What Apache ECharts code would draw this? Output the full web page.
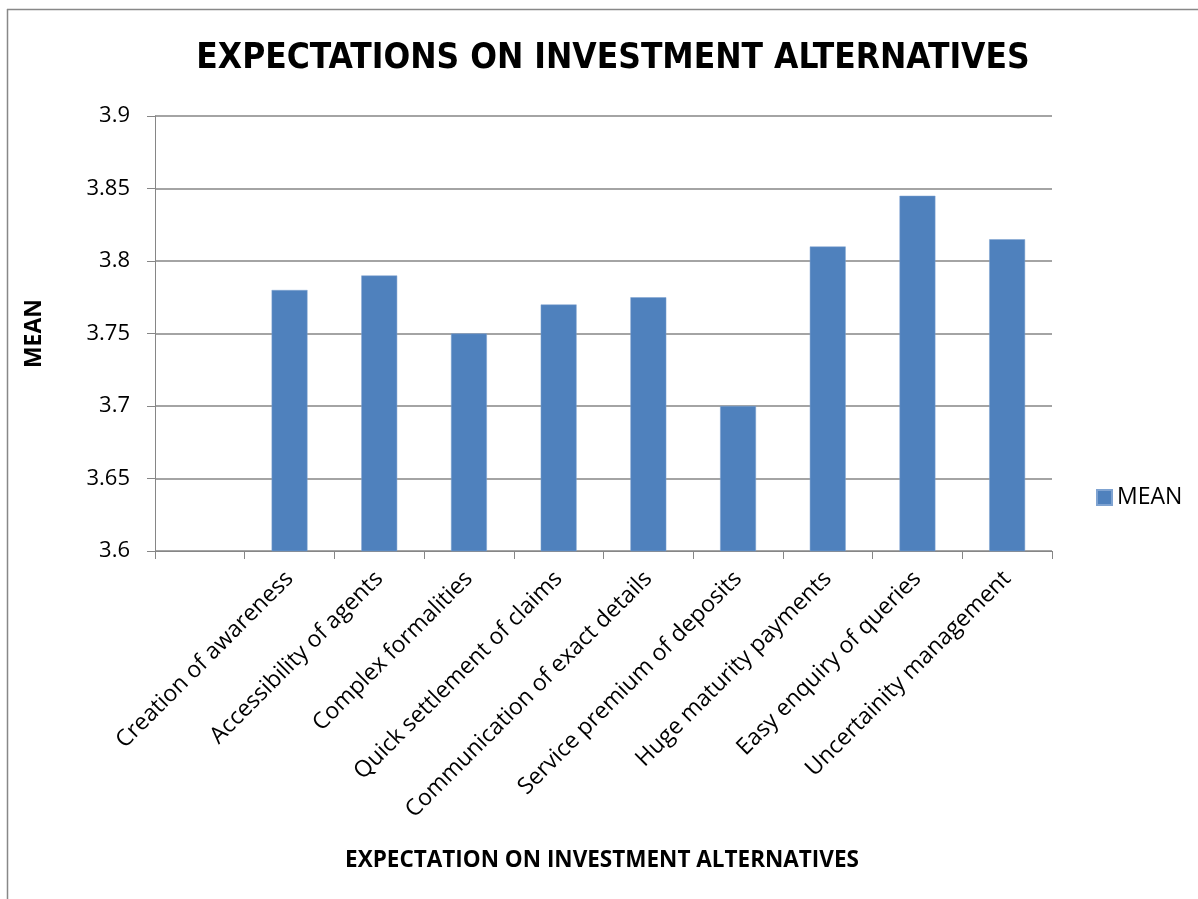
<!DOCTYPE html>
<html>
<head>
<meta charset="utf-8">
<script src="https://cdn.jsdelivr.net/npm/echarts@6/dist/echarts.min.js"></script>
<style>
html,body{margin:0;padding:0;background:#fff;}
#chart{width:1198px;height:899px;}
</style>
</head>
<body>
<div id="chart"></div>
<script>
const categories = ["", "Creation of awareness", "Accessibility of agents", "Complex formalities", "Quick settlement of claims", "Communication of exact details", "Service premium of deposits", "Huge maturity payments", "Easy enquiry of queries", "Uncertainity management"];
const meanValues = [null, 3.78, 3.79, 3.75, 3.77, 3.775, 3.70, 3.81, 3.845, 3.815];
const yTicks = { min: 3.6, max: 3.9, interval: 0.05 };
const titleText = "EXPECTATIONS ON INVESTMENT ALTERNATIVES";
const xTitle = "EXPECTATION ON INVESTMENT ALTERNATIVES";
const yTitle = "MEAN";
const seriesName = "MEAN";

const chart = echarts.init(document.getElementById('chart'));
const font = '"Open Sans", Lato, sans-serif';
chart.setOption({
  animation: false,
  backgroundColor: '#fff',
  title: {
    text: titleText,
    left: 608, top: 36, textAlign: 'center',
    textStyle: { fontFamily: '"DejaVu Sans Condensed", sans-serif', fontWeight: 'bold', fontSize: 35, color: '#000' }
  },
  legend: {
    data: [seriesName],
    left: 1091, top: 481,
    itemWidth: 15, itemHeight: 15, itemGap: 8,
    icon: 'rect',
    textStyle: { fontFamily: font, fontSize: 23, color: '#000' }
  },
  grid: { left: 155, right: 146, top: 116, bottom: 348, containLabel: false },
  xAxis: {
    type: 'category',
    data: categories,
    name: xTitle,
    nameLocation: 'middle',
    nameGap: 298,
    nameTextStyle: { fontFamily: font, fontWeight: 'bold', fontSize: 22.5, color: '#000', padding: [0, 0, 0, -3] },
    axisLine: { lineStyle: { color: '#868686', width: 1 } },
    axisTick: { show: true, length: 8, lineStyle: { color: '#868686' } },
    axisLabel: { rotate: 45, fontFamily: font, fontSize: 23, color: '#000', margin: 24, interval: 0 },
    splitLine: { show: false }
  },
  yAxis: {
    type: 'value',
    min: yTicks.min, max: yTicks.max, interval: yTicks.interval,
    name: yTitle,
    nameLocation: 'middle',
    nameGap: 109,
    nameRotate: 90,
    nameTextStyle: { fontFamily: font, fontWeight: 'bold', fontSize: 23, color: '#000' },
    axisLine: { show: true, lineStyle: { color: '#868686', width: 1 } },
    axisTick: { show: true, length: 8, lineStyle: { color: '#868686' } },
    axisLabel: { fontFamily: font, fontSize: 22, color: '#000', margin: 25,
      formatter: v => String(parseFloat(v.toFixed(2))) },
    splitLine: { show: true, lineStyle: { color: '#868686', width: 1.5 } }
  },
  series: [{
    name: seriesName,
    type: 'bar',
    data: meanValues,
    barWidth: '40%',
    itemStyle: { color: '#4F81BD', borderColor: '#7fa3d1', borderWidth: 0.5 }
  }],
  graphic: [
    { type: 'line', shape: { x1: 7.5, y1: 9, x2: 7.5, y2: 899 }, style: { stroke: '#888', lineWidth: 1.5 } },
    { type: 'line', shape: { x1: 7, y1: 9.5, x2: 1198, y2: 9.5 }, style: { stroke: '#888', lineWidth: 1.5 } }
  ]
});
</script>
</body>
</html>
